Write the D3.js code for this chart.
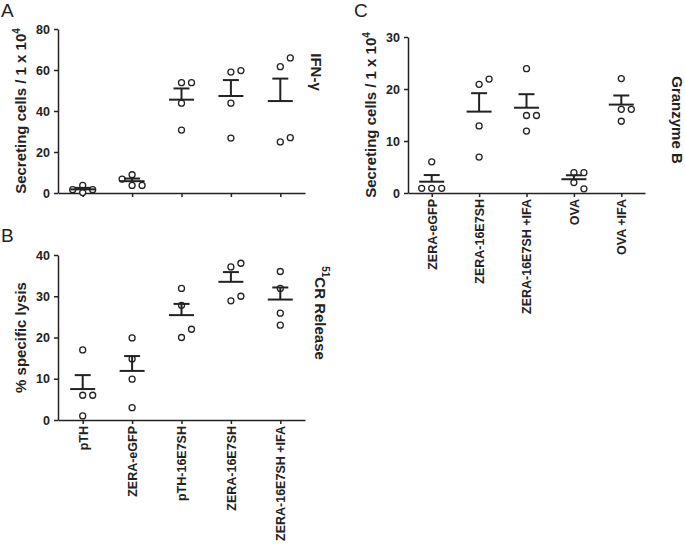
<!DOCTYPE html>
<html>
<head>
<meta charset="utf-8">
<script src="https://cdn.jsdelivr.net/npm/d3@7"></script>
<style>
  body { margin: 0; background: #fff; }
  text { font-family: "Liberation Sans", Arial, sans-serif; fill: #222; }
</style>
</head>
<body>
<div id="chart"></div>
<script>
// groups on the x axes
var groupsAB = ['pTH', 'ZERA-eGFP', 'pTH-16E7SH', 'ZERA-16E7SH', 'ZERA-16E7SH +IFA'];
var groupsC = ['ZERA-eGFP', 'ZERA-16E7SH', 'ZERA-16E7SH +IFA', 'OVA', 'OVA +IFA'];

// individual mice
var ifnValues = [
  [0.2, 1.6, 1.6, 3.7],
  [3.7, 3.7, 8.9, 6.8],
  [30.7, 43.8, 53.8, 53.8],
  [26.8, 43.8, 59, 59.7],
  [24.9, 27, 61.6, 65.9]
];
var lysisValues = [
  [17, 6, 6, 1],
  [19.9, 14.8, 9.9, 3],
  [31.9, 27.8, 20, 22],
  [37.1, 38, 28.9, 30],
  [36, 31.9, 25.9, 23]
];
var granzymeValues = [
  [6, 0.9, 0.9, 0.9],
  [20.9, 21.9, 12.9, 6.9],
  [23.9, 14.9, 14.9, 11.9],
  [3.9, 3.9, 2, 0.8],
  [22, 16.1, 16.1, 13.8]
];

var yTicksA = [0, 20, 40, 60, 80];
var yTicksB = [0, 10, 20, 30, 40];
var yTicksC = [0, 10, 20, 30];

var ink = '#222';

var svg = d3.select('#chart').append('svg')
  .attr('width', 685)
  .attr('height', 544);

// spread points that would overlap, prism style
function fits(placed, dx, py, gap) {
  return placed.every(function(p) {
    return Math.hypot(p.dx - dx, p.py - py) >= gap;
  });
}

function swarm(values, y) {
  var wide = [0, 10, -10];
  var tight = [0, 5, -5, 10, -10, 15, -15, 20, -20];
  var placed = [];
  values.forEach(function(v) {
    var py = y(v);
    var dx = wide.find(function(o) { return fits(placed, o, py, 9.5); });
    if (dx === undefined) {
      dx = tight.find(function(o) { return fits(placed, o, py, 6.8); });
    }
    if (dx === undefined) dx = 0;
    placed.push({ dx: dx, py: py });
  });
  return placed;
}

function drawPanel(opt) {
  var g = svg.append('g');

  var x = d3.scalePoint().domain(opt.groups).range([opt.x0, opt.x1]).padding(0.5);
  var y = d3.scaleLinear().domain([0, d3.max(opt.ticks)]).range([opt.y0, opt.y1]);

  var yAxis = g.append('g')
    .attr('transform', 'translate(' + opt.x0 + ',0)')
    .call(d3.axisLeft(y).tickValues(opt.ticks).tickSize(4).tickSizeOuter(0).tickPadding(4));
  var xAxis = g.append('g')
    .attr('transform', 'translate(0,' + opt.y0 + ')')
    .call(d3.axisBottom(x).tickSize(4).tickSizeOuter(0)
      .tickFormat(opt.labels ? null : function() { return ''; }));

  [yAxis, xAxis].forEach(function(a) {
    a.selectAll('path, line').attr('stroke', ink).attr('stroke-width', 1.5);
    a.selectAll('text')
      .attr('fill', ink)
      .style('font-family', '"Liberation Sans", Arial, sans-serif')
      .style('font-size', '12.5px')
      .style('font-weight', 'bold');
  });

  if (opt.labels) {
    xAxis.selectAll('text')
      .attr('transform', 'rotate(-90)')
      .attr('text-anchor', 'end')
      .attr('x', -6)
      .attr('y', 0)
      .attr('dy', '0.35em')
      .style('font-size', '12.5px');
  }

  // dots
  opt.values.forEach(function(vals, gi) {
    var cx = x(opt.groups[gi]);
    var pts = swarm(vals, y);
    g.selectAll(null).data(pts)
      .enter().append('circle')
      .attr('cx', function(d) { return cx + d.dx; })
      .attr('cy', function(d) { return d.py; })
      .attr('r', 3)
      .attr('fill', '#fff')
      .attr('stroke', ink)
      .attr('stroke-width', 1.3);

    // mean with upper SEM
    var m = d3.mean(vals);
    var sem = d3.deviation(vals) / Math.sqrt(vals.length);
    g.append('line')
      .attr('x1', cx - 12.5).attr('x2', cx + 12.5)
      .attr('y1', y(m)).attr('y2', y(m))
      .attr('stroke', ink).attr('stroke-width', 2);
    g.append('line')
      .attr('x1', cx).attr('x2', cx)
      .attr('y1', y(m)).attr('y2', y(m + sem))
      .attr('stroke', ink).attr('stroke-width', 2);
    g.append('line')
      .attr('x1', cx - 8).attr('x2', cx + 8)
      .attr('y1', y(m + sem)).attr('y2', y(m + sem))
      .attr('stroke', ink).attr('stroke-width', 2);
  });

  // y title
  var yt = g.append('text')
    .attr('transform', 'translate(' + opt.titleX + ',' + (opt.y0 + opt.y1) / 2 + ') rotate(-90)')
    .attr('text-anchor', 'middle')
    .attr('dy', '0.35em')
    .style('font-size', '15px')
    .style('font-weight', 'bold');
  yt.append('tspan').text(opt.title);
  if (opt.sup) {
    yt.append('tspan').attr('dy', -6).style('font-size', '10px').text(opt.sup);
  }

  // right-hand label
  var rt = g.append('text')
    .attr('transform', 'translate(' + opt.sideX + ',' + opt.sideY + ') rotate(90)')
    .attr('text-anchor', 'middle')
    .attr('dy', '0.35em')
    .style('font-size', '15px')
    .style('font-weight', 'bold');
  if (opt.sidePre) {
    rt.append('tspan').attr('dy', '-0.1em').style('font-size', '10px').text(opt.sidePre);
    rt.append('tspan').attr('dy', '0.45em').text(opt.side);
  } else {
    rt.append('tspan').text(opt.side);
  }

  // panel letter
  g.append('text')
    .attr('x', opt.letterX)
    .attr('y', opt.letterY)
    .style('font-size', '19px')
    .text(opt.letter);
}

drawPanel({
  groups: groupsAB, values: ifnValues, ticks: yTicksA, labels: false,
  x0: 58, x1: 305, y0: 193, y1: 29,
  title: 'Secreting cells / 1 x 10', sup: '4', titleX: 21,
  side: 'IFN-\u03b3', sideX: 316, sideY: 72,
  letter: 'A', letterX: 1, letterY: 17
});

drawPanel({
  groups: groupsAB, values: lysisValues, ticks: yTicksB, labels: true,
  x0: 58, x1: 305, y0: 420, y1: 255,
  title: '% specific lysis', titleX: 21,
  side: 'CR Release', sidePre: '51', sideX: 321, sideY: 313,
  letter: 'B', letterX: 1, letterY: 242
});

drawPanel({
  groups: groupsC, values: granzymeValues, ticks: yTicksC, labels: true,
  x0: 408, x1: 645, y0: 193, y1: 37,
  title: 'Secreting cells / 1 x 10', sup: '4', titleX: 371,
  side: 'Granzyme B', sideX: 677, sideY: 120,
  letter: 'C', letterX: 354, letterY: 17
});
</script>
</body>
</html>
